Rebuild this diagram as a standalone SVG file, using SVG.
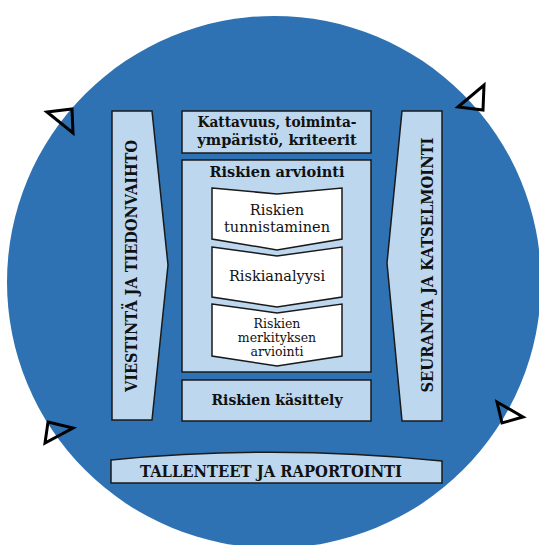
<svg xmlns="http://www.w3.org/2000/svg" width="539" height="545" viewBox="0 0 539 545">
<style>
.lb{fill:#BDD7EE;stroke:#1a1a1a;stroke-width:1.5}
.wh{fill:#ffffff;stroke:#1a1a1a;stroke-width:1.5}
.tri{fill:none;stroke:#000;stroke-width:3;stroke-linejoin:miter}
text{font-family:"DejaVu Serif","Liberation Serif",serif;fill:#111;text-anchor:middle}
.b{font-weight:bold}
</style>
<rect width="539" height="545" fill="#ffffff"/>
<ellipse id="circle" cx="274" cy="282" rx="267" ry="266" fill="#2E72B3"/>
<g id="connectors">
<polygon class="tri" points="47,112 72,109 73,133"/>
<polygon class="tri" points="458,107 484,85 483,110"/>
<polygon class="tri" points="48,422 73,428 45,443"/>
<polygon class="tri" points="497,402 523,417 502,423"/>
</g>
<g id="viestinta">
<polygon class="lb" points="112,111 152,111 168,265 152,420 112,420"/>
<text class="b" transform="translate(137,266) rotate(-90)" font-size="16" textLength="252" lengthAdjust="spacingAndGlyphs">VIESTINTÄ JA TIEDONVAIHTO</text>
</g>
<g id="seuranta">
<polygon class="lb" points="402,111 442,111 442,421 402,421 387,263"/>
<text class="b" transform="translate(433,265) rotate(-90)" font-size="16" textLength="255" lengthAdjust="spacingAndGlyphs">SEURANTA JA KATSELMOINTI</text>
</g>
<g id="kattavuus">
<rect class="lb" x="182" y="111" width="189" height="42"/>
<text class="b" x="277" y="127" font-size="14.5" textLength="159" lengthAdjust="spacingAndGlyphs">Kattavuus, toiminta-</text>
<text class="b" x="277" y="145" font-size="14.5">ympäristö, kriteerit</text>
</g>
<g id="arviointi">
<rect class="lb" x="182" y="160" width="189" height="212"/>
<text class="b" x="277" y="177" font-size="14.5">Riskien arviointi</text>
</g>
<g id="tunnistaminen">
<polygon class="wh" points="212,188 277,194 342,188 342,239 277,250 212,239"/>
<text x="277" y="215" font-size="14.5">Riskien</text>
<text x="277" y="232" font-size="14.5">tunnistaminen</text>
</g>
<g id="riskianalyysi">
<polygon class="wh" points="212,247 277,256 342,247 342,297 277,307 212,297"/>
<text x="277" y="281" font-size="14.5">Riskianalyysi</text>
</g>
<g id="merkitys">
<polygon class="wh" points="212,304 277,313 342,304 342,356 277,366 212,356"/>
<text x="277" y="328" font-size="12.5">Riskien</text>
<text x="277" y="342" font-size="12.5">merkityksen</text>
<text x="277" y="356" font-size="12.5">arviointi</text>
</g>
<g id="kasittely">
<rect class="lb" x="182" y="380" width="189" height="41"/>
<text class="b" x="277" y="405" font-size="14">Riskien käsittely</text>
</g>
<g id="tallenteet">
<path class="lb" d="M111,460 Q276,444 442,461 L442,483 L111,483 Z"/>
<text class="b" x="271" y="477" font-size="16" textLength="262" lengthAdjust="spacingAndGlyphs">TALLENTEET JA RAPORTOINTI</text>
</g>
</svg>
